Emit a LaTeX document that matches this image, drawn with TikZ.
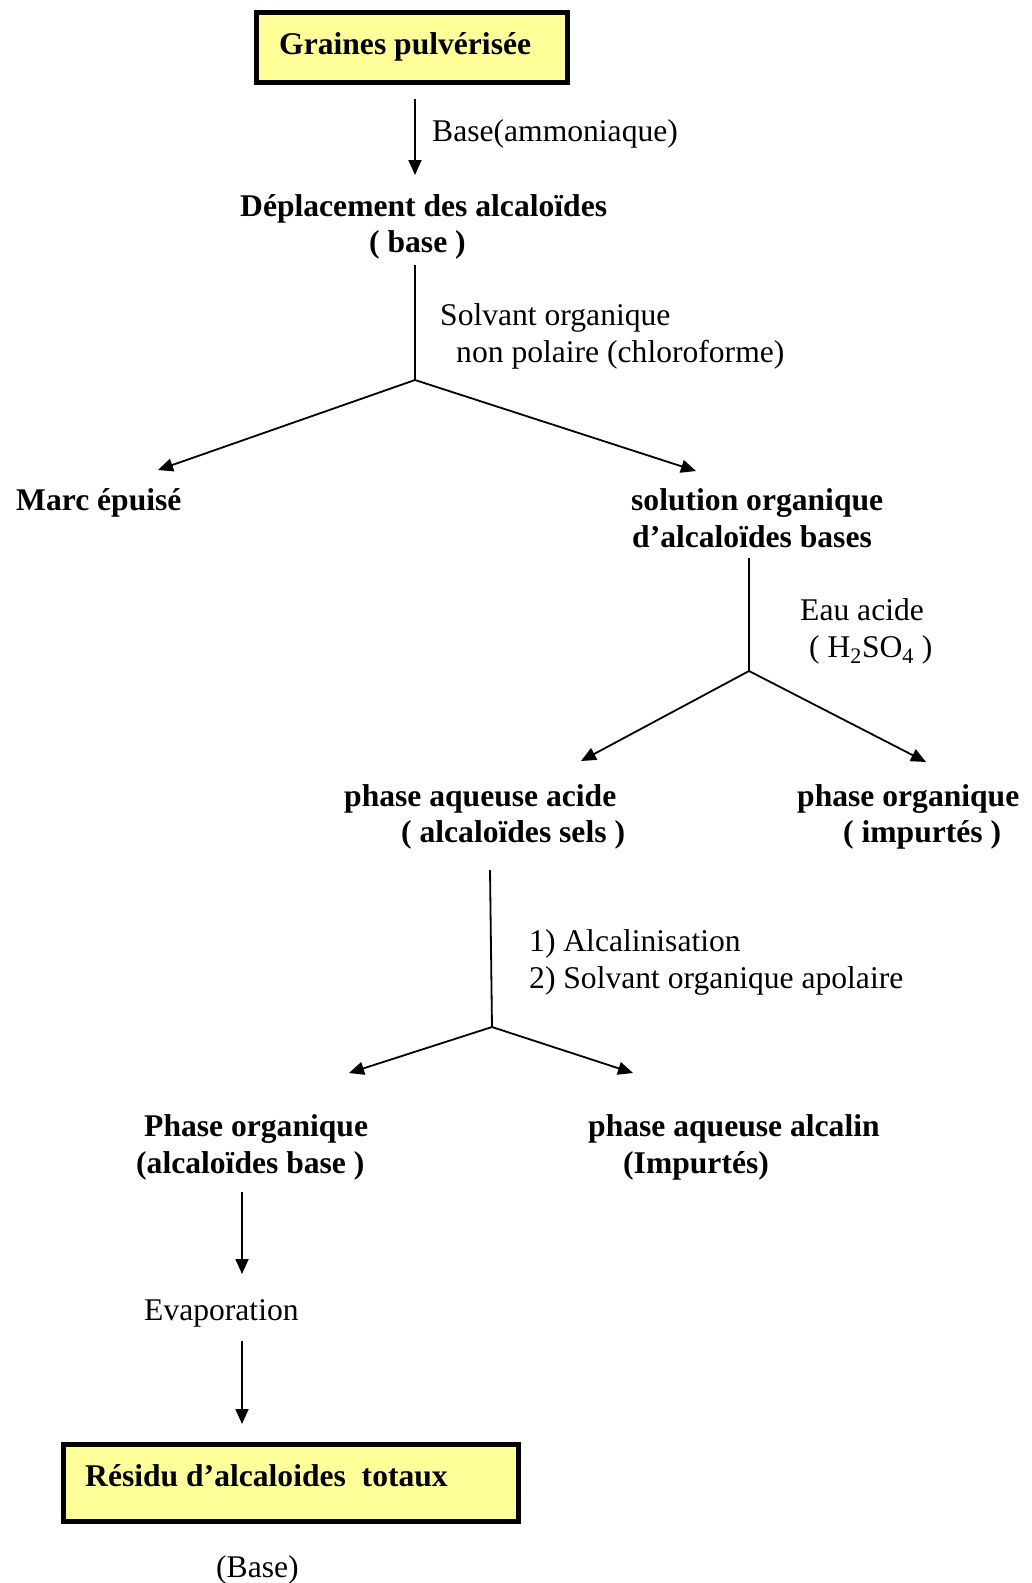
\documentclass[tikz,border=0pt]{standalone}
\usepackage{fontspec}
\setmainfont{Liberation Serif}
\usetikzlibrary{arrows.meta}
\definecolor{boxyellow}{RGB}{255,255,153}
\begin{document}
\begin{tikzpicture}[x=1pt,y=-1pt,
  txt/.style={anchor=mid west, inner sep=0pt, yshift=-8pt, font=\fontsize{31.6}{36}\selectfont},
  btxt/.style={anchor=mid west, inner sep=0pt, yshift=-8pt, font=\fontsize{31.6}{36}\selectfont\bfseries},
  arr/.style={line width=1.8pt, -{Triangle[length=15pt,width=13pt]}},
  ln/.style={line width=1.8pt},
  ybox/.style={draw, line width=5pt, fill=boxyellow, inner sep=0pt}]
\useasboundingbox (0,0) rectangle (1032,1583);
% top box
\node[ybox, minimum width=311pt, minimum height=70pt] (box1) at (412,47.5) {};
\node[btxt] (t1) at (279,44.5) {Graines pulvérisée};
% arrow 1
\coordinate (a1s) at (415,99);
\coordinate (a1e) at (415,175);
\draw[arr] (a1s) -- (a1e);
\node[txt] (l1) at (432,131) {Base(ammoniaque)};
\node[btxt] (dep1) at (240,206) {Déplacement des alcaloïdes};
\node[btxt] (dep2) at (369,242) {( base )};
% branch 1
\coordinate (v1s) at (415,265);
\coordinate (b1) at (415,380);
\coordinate (b1l) at (158,470);
\coordinate (b1r) at (696,471);
\draw[ln] (v1s) -- (b1);
\draw[arr] (b1) -- (b1l);
\draw[arr] (b1) -- (b1r);
\node[txt] (l2a) at (440,315) {Solvant organique};
\node[txt] (l2b) at (456,352) {non polaire (chloroforme)};
\node[btxt] (marc) at (16,500) {Marc épuisé};
\node[btxt] (sol1) at (631,500) {solution organique};
\node[btxt] (sol2) at (632,537) {d’alcaloïdes bases};
% branch 2
\coordinate (v2s) at (749,558);
\coordinate (b2) at (749,671);
\coordinate (b2l) at (581,761);
\coordinate (b2r) at (926,762);
\draw[ln] (v2s) -- (b2);
\draw[arr] (b2) -- (b2l);
\draw[arr] (b2) -- (b2r);
\node[txt] (l3a) at (800,610) {Eau acide};
\node[txt] (l3b) at (809,647) {( H\textsubscript{2}SO\textsubscript{4} )};
\node[btxt] (paa1) at (344,796) {phase aqueuse acide};
\node[btxt] (paa2) at (401,832) {( alcaloïdes sels )};
\node[btxt] (po1) at (797,796) {phase organique};
\node[btxt] (po2) at (843,832) {( impurtés )};
% branch 3
\coordinate (v3s) at (490,870);
\coordinate (b3) at (492,1027);
\coordinate (b3l) at (349,1073);
\coordinate (b3r) at (633,1073);
\draw[ln] (v3s) -- (b3);
\draw[arr] (b3) -- (b3l);
\draw[arr] (b3) -- (b3r);
\node[txt] (l4a) at (529,941) {1) Alcalinisation};
\node[txt] (l4b) at (529,978) {2) Solvant organique apolaire};
\node[btxt] (pho1) at (144,1126) {Phase organique};
\node[btxt] (pho2) at (136,1163) {(alcaloïdes base )};
\node[btxt] (pal1) at (588,1126) {phase aqueuse alcalin};
\node[btxt] (pal2) at (623,1163) {(Impurtés)};
% evaporation
\coordinate (a5s) at (242,1192);
\coordinate (a5e) at (242,1274);
\draw[arr] (a5s) -- (a5e);
\node[txt] (evap) at (144,1310) {Evaporation};
\coordinate (a6s) at (242,1341);
\coordinate (a6e) at (242,1424);
\draw[arr] (a6s) -- (a6e);
% bottom box
\node[ybox, minimum width=455pt, minimum height=77pt] (box2) at (291,1483) {};
\node[btxt] (t2) at (85,1476) {Résidu d’alcaloides\ \ totaux};
\node[txt] (base) at (216,1567) {(Base)};
\end{tikzpicture}
\end{document}
